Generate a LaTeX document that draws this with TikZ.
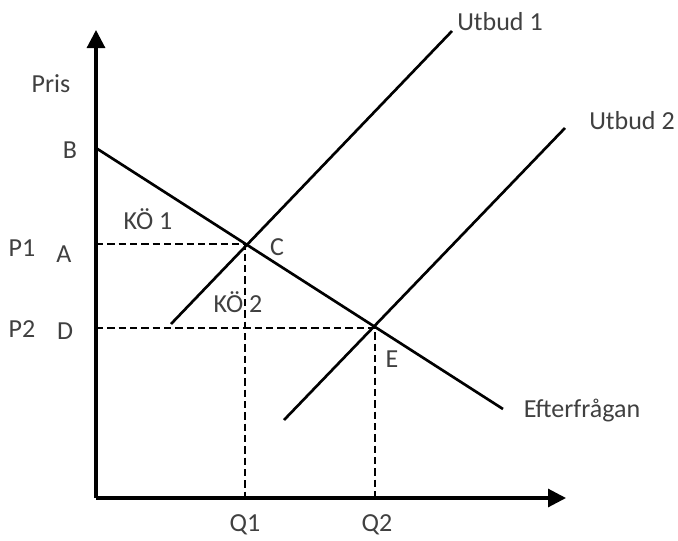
\documentclass[tikz,border=0pt]{standalone}
\usepackage{fontspec}
\setmainfont{Carlito}
\usetikzlibrary{arrows.meta}
\definecolor{txt}{RGB}{64,64,64}
\begin{document}
\begin{tikzpicture}[
  x=0.75pt, y=-0.75pt,
  lbl/.style={text=txt, inner sep=0pt, font=\fontsize{19.5}{23}\selectfont},
  axis/.style={line width=2.3pt, -{Triangle[length=13.5pt, width=13.5pt]}},
  curve/.style={line width=2pt},
  guide/.style={line width=2pt, dash pattern=on 5.5pt off 3pt}
]
\useasboundingbox (0,0) rectangle (678,540);

% axes
\coordinate (O) at (96,498);
\coordinate (ytop) at (96,30);
\coordinate (xend) at (566,498);
\draw[axis] (O) -- (ytop);
\draw[axis] (O) -- (xend);

% points
\coordinate (B) at (96,148);
\coordinate (C) at (245,244);
\coordinate (E) at (375,328);
\coordinate (A) at (96,244);
\coordinate (D) at (96,328);
\coordinate (Q1) at (245,498);
\coordinate (Q2) at (375,498);

% demand and supply
\coordinate (dend) at (503,409);
\coordinate (s1lo) at (171,324);
\coordinate (s1hi) at (452,31);
\coordinate (s2lo) at (284,420);
\coordinate (s2hi) at (565,128);
\draw[curve] (B) -- (dend);
\draw[curve] (s1lo) -- (s1hi);
\draw[curve] (s2lo) -- (s2hi);

% dashed guides
\draw[guide] (A) -- (C) -- (Q1);
\draw[guide] (D) -- (E) -- (Q2);

% labels
\node[lbl] (pris) at (51,84) {Pris};
\node[lbl] (lB) at (70,150) {B};
\node[lbl] (lP1) at (22,248) {P1};
\node[lbl] (lA) at (64,254) {A};
\node[lbl] (lP2) at (22,329) {P2};
\node[lbl] (lD) at (65,331) {D};
\node[lbl] (ko1) at (148,219) {KÖ 1};
\node[lbl] (lC) at (277,247) {C};
\node[lbl] (ko2) at (238,302) {KÖ 2};
\node[lbl] (lE) at (392,359) {E};
\node[lbl] (lQ1) at (245,525) {Q1};
\node[lbl] (lQ2) at (377,525) {Q2};
\node[lbl] (utb1) at (500,22) {Utbud 1};
\node[lbl] (utb2) at (632,121) {Utbud 2};
\node[lbl] (eft) at (582,411) {Efterfrågan};
\end{tikzpicture}
\end{document}
